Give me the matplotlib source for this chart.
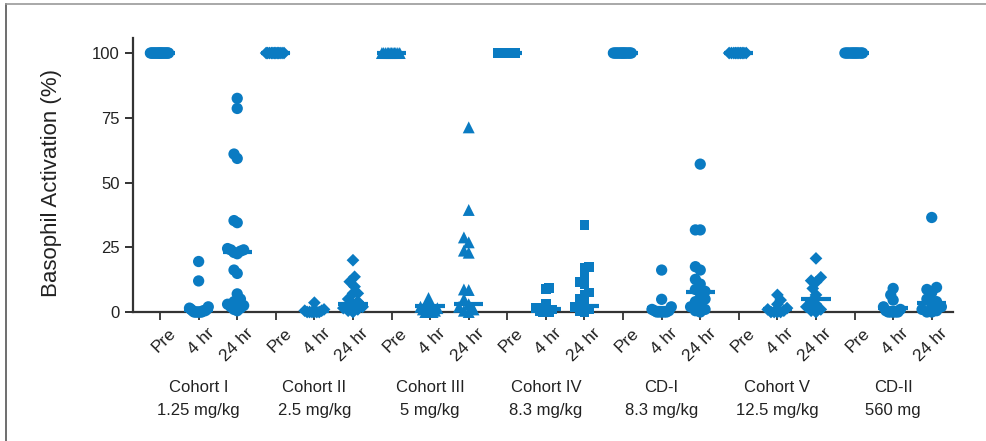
import numpy as np
import matplotlib
matplotlib.use('Agg')
import matplotlib.pyplot as plt
from matplotlib.lines import Line2D
import matplotlib.transforms as mtransforms

plt.rcParams['font.family'] = ['Liberation Sans Narrow', 'Liberation Sans', 'DejaVu Sans']

# ---- data ----------------------------------------------------------------
cohorts = ['Cohort I', 'Cohort II', 'Cohort III', 'Cohort IV', 'CD-I', 'Cohort V', 'CD-II']
doses = ['1.25 mg/kg', '2.5 mg/kg', '5 mg/kg', '8.3 mg/kg', '8.3 mg/kg', '12.5 mg/kg', '560 mg']
timepoints = ['Pre', '4 hr', '24 hr']
markers = ['o', 'D', '^', 's', 'o', 'D', 'o']

# number of patients sampled pre-dose (all at 100 %)
n_pre = [20, 12, 12, 10, 16, 10, 14]
pre_value = 100

h4_I = [19.5, 12, 2, 1.5, 1, 1, 0.5, 0.5, 0.5, 0, 0, 0, 0, 0, 0]
h24_I = [82.5, 78.6, 61, 59.3, 35.3, 34.5, 24.5, 24, 24, 23.5, 23, 22.5, 16.2, 14.9,
         7, 5, 4, 3.5, 3, 2.5, 2, 1.5, 1, 0.5]
h4_II = [3.6, 1, 0.5, 0.5, 0, 0, 0, 0, 0, 0]
h24_II = [20, 13.6, 11.7, 9.8, 7.2, 7.2, 5, 4, 3, 2, 1.5, 1, 0.5, 0]
h4_III = [5.4, 3, 2, 1.5, 1, 0.5, 0, 0, 0, 0]
h24_III = [71.3, 39.4, 28.8, 26.9, 23.7, 22.9, 8.5, 8.7, 5, 3, 2, 1, 0.5, 0]
h4_IV = [9.4, 8.9, 3, 1.5, 1, 0.5, 0, 0, 0]
h24_IV = [33.6, 17.5, 17.2, 14, 11.7, 10.8, 7.5, 6.6, 5, 3, 2, 1, 0.5, 0]
h4_CDI = [16.2, 4.9, 2, 1, 0.5, 0.5, 0, 0, 0, 0, 0]
h24_CDI = [57.1, 31.7, 31.7, 17.5, 16.2, 12.6, 10.8, 8.7, 8, 7.2, 5, 4, 3, 2, 1, 0.5, 0]
h4_V = [6.6, 4.6, 3, 1.5, 1, 0.5, 0, 0, 0, 0]
h24_V = [20.7, 13.4, 12.1, 11.5, 9.1, 6.6, 4, 3, 2, 1, 0.5, 0]
h4_CDII = [9.1, 6.6, 4.6, 2, 1, 0.5, 0, 0, 0, 0, 0]
h24_CDII = [36.5, 9.5, 8.7, 7.5, 5, 4, 3, 2, 1, 0.5, 0, 0]

h4_all = [h4_I, h4_II, h4_III, h4_IV, h4_CDI, h4_V, h4_CDII]
h24_all = [h24_I, h24_II, h24_III, h24_IV, h24_CDI, h24_V, h24_CDII]

# medians drawn as horizontal bars
med_4h = [0.8, 0.5, 2.3, 1.2, 1.5, 1.0, 1.5]
med_24h = [23, 3.1, 3.1, 2.3, 7.7, 4.9, 3.6]

color = '#0a7bc2'


def swarm(vals, dx, dy, max_off):
    # simple beeswarm: place points in order, nearest free offset to the center
    vals = np.asarray(vals, dtype=float)
    offs = np.zeros(len(vals))
    placed = []
    step = dx / 3
    for n, i in enumerate(np.argsort(vals)):
        y = vals[i]
        sign = 1 if n % 2 == 0 else -1
        o = 0.0
        for k in range(200):
            cands = [0.0] if k == 0 else [sign * k * step, -sign * k * step]
            found = None
            for c in cands:
                if all(((c - po) / dx) ** 2 + ((y - py) / dy) ** 2 >= 1 for po, py in placed):
                    found = c
                    break
            if found is not None:
                o = found
                break
        placed.append((o, y))
        offs[i] = o
    m = np.abs(offs).max()
    if m > max_off:
        offs *= max_off / m
    return offs


fig = plt.figure(figsize=(9.87, 4.41), dpi=100)
ax = fig.add_axes([0.1348, 0.2925, 0.8307, 0.6213])

# marker overlap distance in data units (~7 px)
dx = 7 / 38.6
dy = 7 / 2.59

xticks = []
xlabels = []
for g, name in enumerate(cohorts):
    base = g * 3
    groups = [[pre_value] * n_pre[g], h4_all[g], h24_all[g]]
    meds = [pre_value, med_4h[g], med_24h[g]]
    mk = markers[g]
    size = {'o': 66, 'D': 42, '^': 74, 's': 50}[mk]
    for t, vals in enumerate(groups):
        xc = base + t
        offs = swarm(vals, dx, dy, 0.25)
        ax.scatter(xc + offs, vals, marker=mk, s=size, color=color,
                   edgecolors='none', clip_on=False, zorder=3)
        ax.plot([xc - 0.38, xc + 0.38], [meds[t], meds[t]], color=color,
                lw=3, solid_capstyle='butt', clip_on=False, zorder=4)
        xticks.append(xc)
        xlabels.append(timepoints[t])

ax.set_xlim(-0.7, 20.55)
ax.set_ylim(0, 105.8)
ax.set_xticks(xticks)
ax.set_xticklabels(xlabels, rotation=45, ha='right', va='top',
                   rotation_mode='anchor', fontsize=12.5, color='#222222')
ax.set_yticks([0, 25, 50, 75, 100])
ax.tick_params(axis='y', labelsize=12, colors='#222222', length=6, width=1.3)
ax.tick_params(axis='x', length=6, width=1.3, colors='#333333', labelcolor='#222222')
for lab in ax.get_xticklabels():
    lab.set_transform(lab.get_transform() + mtransforms.ScaledTranslation(0.08, 0.0, fig.dpi_scale_trans))

for s in ['top', 'right']:
    ax.spines[s].set_visible(False)
for s in ['left', 'bottom']:
    ax.spines[s].set_linewidth(1.6)
    ax.spines[s].set_color('#333333')

ax.set_ylabel('Basophil Activation (%)', fontsize=16, color='#222222')
ax.yaxis.set_label_coords(-0.087, 0.47)

trans = mtransforms.blended_transform_factory(ax.transData, fig.transFigure)
for g, name in enumerate(cohorts):
    ax.text(g * 3 + 1, 1 - 387 / 441, name, transform=trans, ha='center',
            va='center', fontsize=12, color='#222222')
    ax.text(g * 3 + 1, 1 - 410 / 441, doses[g], transform=trans, ha='center',
            va='center', fontsize=12, color='#222222')

# thin frame at top/left of the panel
fig.add_artist(Line2D([0.006, 0.006], [0, 0.991], transform=fig.transFigure,
                      color='#555555', lw=1.2))
fig.add_artist(Line2D([0.006, 1.0], [0.991, 0.991], transform=fig.transFigure,
                      color='#999999', lw=1.2))

fig.savefig('out.png', dpi=100)
